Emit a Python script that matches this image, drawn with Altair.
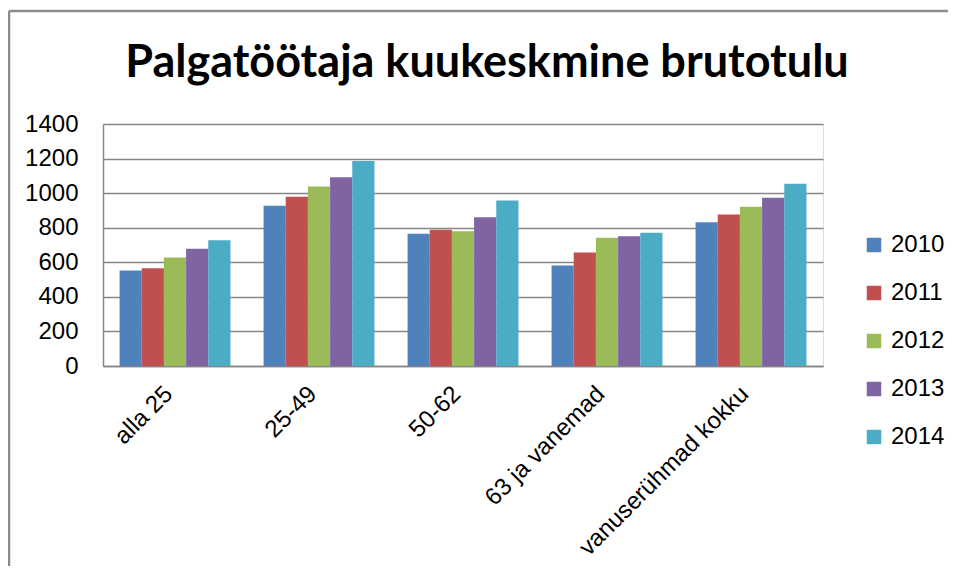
import altair as alt
import pandas as pd

title_text = "Palgatöötaja kuukeskmine brutotulu"
categories = ["alla 25", "25-49", "50-62", "63 ja vanemad", "vanuserühmad kokku"]
years = ["2010", "2011", "2012", "2013", "2014"]
v2010 = [552, 927, 765, 581, 832]
v2011 = [565, 979, 788, 656, 877]
v2012 = [627, 1038, 780, 742, 921]
v2013 = [679, 1092, 861, 751, 973]
v2014 = [728, 1186, 957, 771, 1055]
colors = ["#4F81BD", "#C0504D", "#9BBB59", "#8064A2", "#4BACC6"]

series = [v2010, v2011, v2012, v2013, v2014]
rows = []
for y, vals in zip(years, series):
    for c, v in zip(categories, vals):
        rows.append({"kategooria": c, "aasta": y, "väärtus": v})
df = pd.DataFrame(rows)

FONT = "Liberation Sans"

bars = alt.Chart(df).mark_bar().encode(
    x=alt.X("kategooria:N", sort=categories,
            scale=alt.Scale(paddingInner=0.23, paddingOuter=0.115),
            axis=alt.Axis(title=None, labelAngle=-45, labelAlign="right", labelBaseline="middle",
                          labelFontSize=24, labelFont=FONT, labelColor="#000000", labelLimit=0,
                          labelPadding=24, labelOffset=-6, ticks=False, domainColor="#868686",
                          domainWidth=1.5, grid=False)),
    xOffset=alt.XOffset("aasta:N", sort=years),
    y=alt.Y("väärtus:Q", scale=alt.Scale(domain=[0, 1400]),
            axis=alt.Axis(title=None, values=[0, 200, 400, 600, 800, 1000, 1200, 1400], format="d",
                          labelFontSize=24, labelFont=FONT, labelColor="#000000",
                          labelPadding=25, ticks=False, domainColor="#868686", domainWidth=1.5,
                          gridColor="#868686", gridWidth=1.5)),
    color=alt.Color("aasta:N", sort=years, scale=alt.Scale(domain=years, range=colors),
                    legend=alt.Legend(title=None, orient="none", legendX=759, legendY=109,
                                      symbolType="square", symbolSize=210, symbolStrokeWidth=0,
                                      labelFontSize=24, labelFont=FONT, labelColor="#000000",
                                      rowPadding=24, labelOffset=5)),
)

one = pd.DataFrame({"k": [1]})
frame_top = alt.Chart(one).mark_rule(stroke="#8c8c8c", strokeWidth=2.5).encode(
    x=alt.value(-94), x2=alt.value(900), y=alt.value(-113)
)
frame_left = alt.Chart(one).mark_rule(stroke="#8c8c8c", strokeWidth=2.5).encode(
    x=alt.value(-94), y=alt.value(-113), y2=alt.value(520)
)

title = alt.Chart(pd.DataFrame({"t": [title_text]})).mark_text(
    font="Lato", fontSize=45, fontWeight="bold", color="#000000", align="center", baseline="alphabetic"
).encode(text="t:N", x=alt.value(384), y=alt.value(-47))

chart = alt.layer(frame_top, frame_left, bars, title).properties(
    width=720, height=242,
    autosize=alt.AutoSizeParams(type="none"),
    padding={"left": 95, "top": 116, "right": 125, "bottom": 200},
).configure_view(stroke="#868686", strokeWidth=1.5).configure(background="white")

chart.save("out.html", embed_options={"renderer": "svg", "actions": False})
